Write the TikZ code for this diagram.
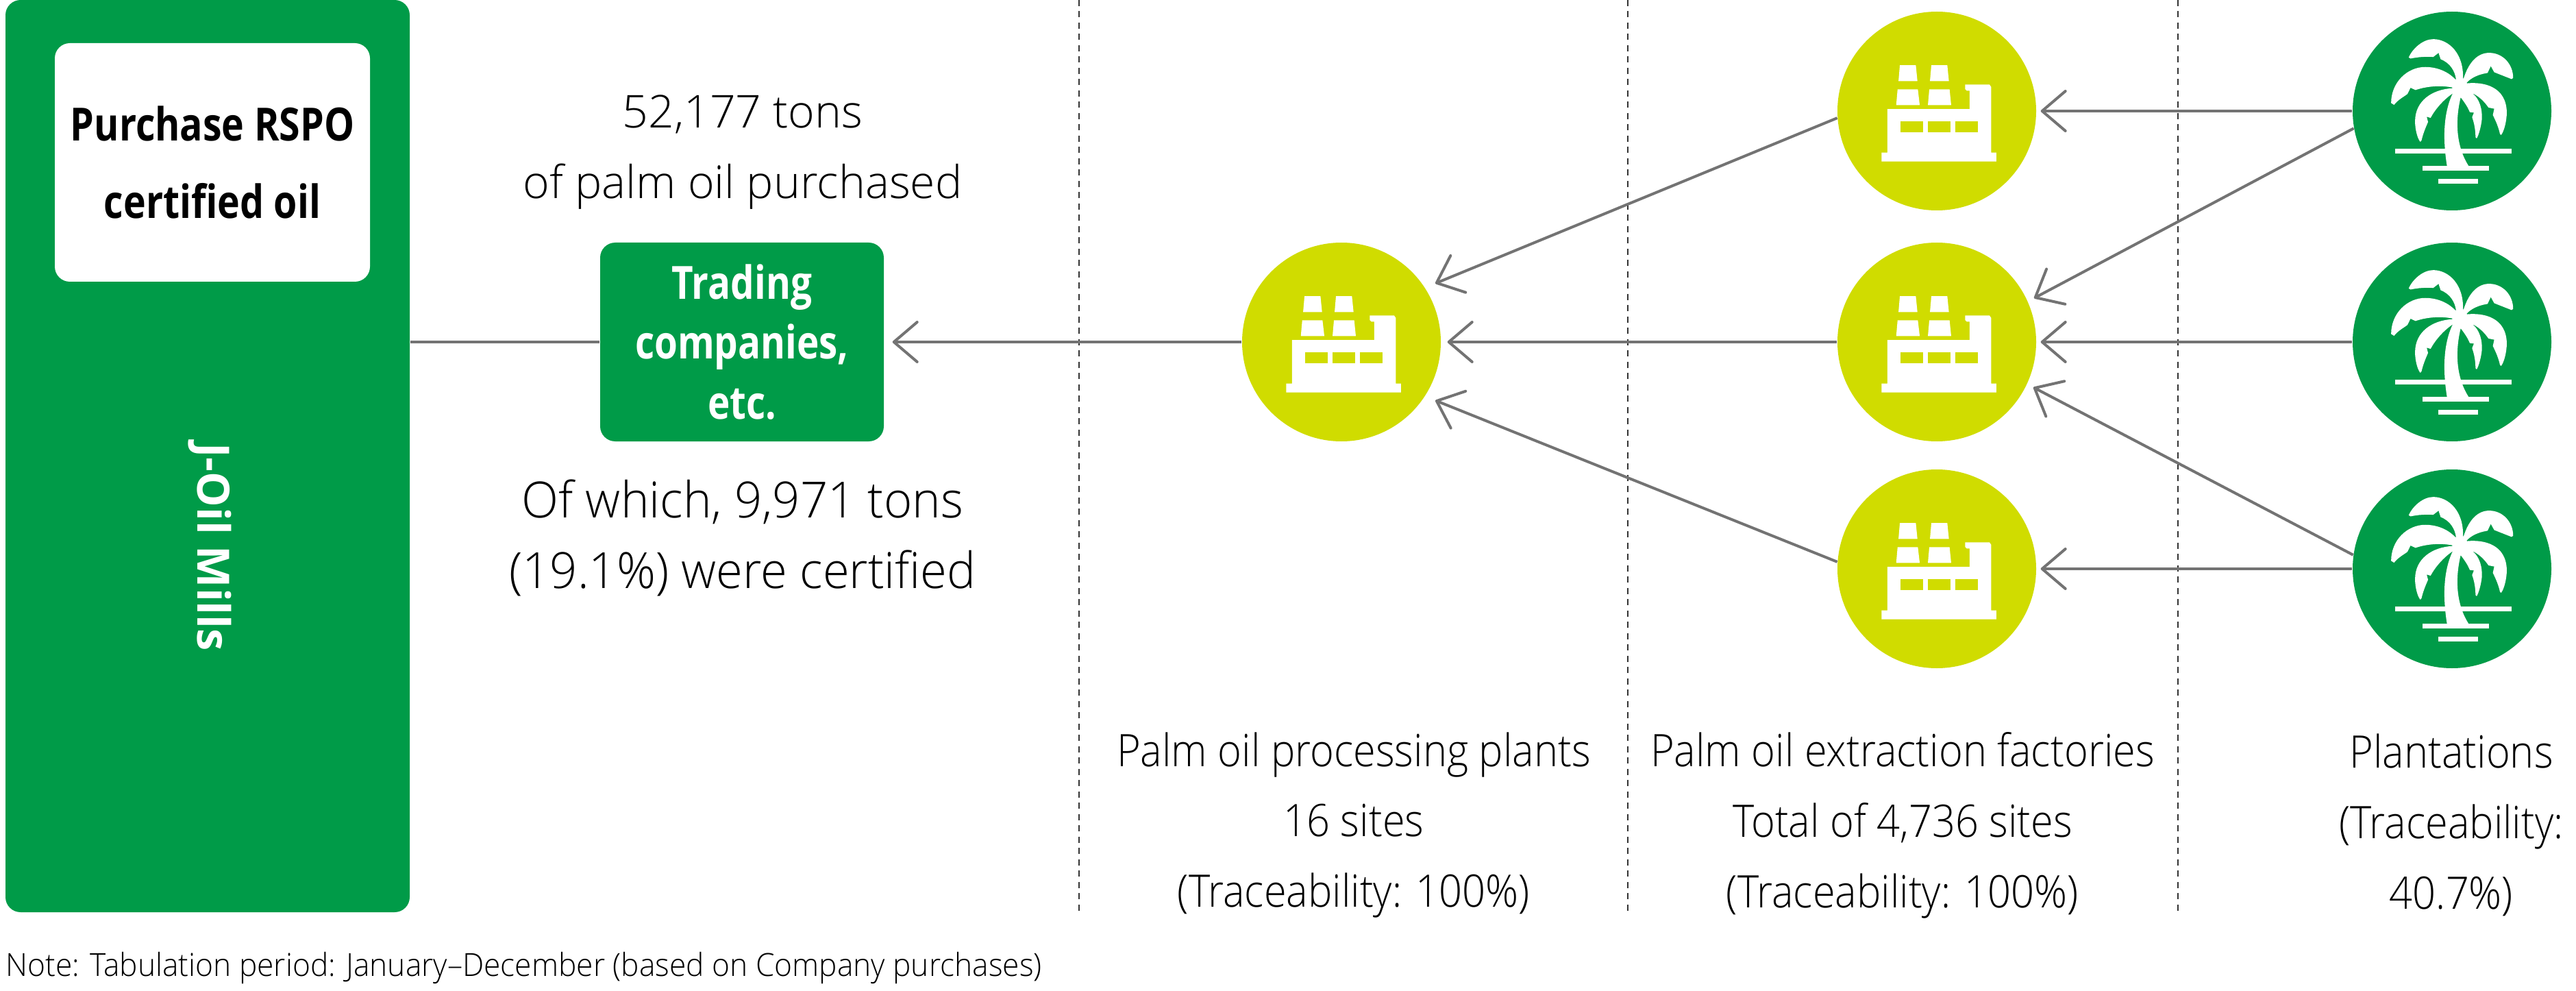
\documentclass[tikz,border=0pt]{standalone}
\usepackage{fontspec}
\setmainfont{Open Sans Light}[BoldFont={Open Sans Bold}]
\usetikzlibrary{arrows.meta}
\definecolor{oilgreen}{HTML}{009B48}
\definecolor{plantlime}{HTML}{D0DC00}
\definecolor{flowgray}{HTML}{737373}
\def\narrowfont#1#2#3{\fontsize{#1}{#2}\selectfont\addfontfeature{FakeStretch=#3}}
\def\narrowbold#1#2#3{\fontsize{#1}{#2}\selectfont\bfseries\addfontfeature{FakeStretch=#3}}
\tikzset{
	flow/.style={draw=flowgray, line width=0.4mm, -{Straight Barb[length=3.4mm, width=5.8mm, round]}},
	sitecircle/.style={circle, minimum size=2.9cm, inner sep=0pt},
	sitedash/.style={draw=black!80, line width=0.25mm, dash pattern=on 0.09cm off 0.075cm},
	greybox/.style={rectangle, rounded corners=0.22cm, inner sep=0pt},
	bodytext/.style={align=center, text=black},
}
% icons are traced in thirds of a reference pixel, so y runs downwards here
\def\factoryicon(#1){
	\begin{scope}[shift={(#1)}, x=0.0333mm, y=-0.0333mm, shift={(-624,-451)}]
		\fill[white] (462,250) -- (532,250) -- (539,320) -- (456,320) -- cycle;
		\fill[white] (600,250) -- (670,250) -- (677,320) -- (594,320) -- cycle;
		\fill[white] (452,356) -- (541,356) -- (549,425) -- (446,425) -- cycle;
		\fill[white] (591,356) -- (680,356) -- (687,425) -- (585,425) -- cycle;
		\fill[white] (407,442) -- (768,442) -- (768,362) -- (755,362) -- (748,355) -- (748,335)
			-- (855,335) -- (862,345) -- (862,633) -- (885,633) -- (885,672) -- (382,672)
			-- (382,633) -- (407,633) -- cycle;
		\fill[plantlime] (465,497) rectangle (565,543);
		\fill[plantlime] (585,497) rectangle (684,543);
		\fill[plantlime] (705,497) rectangle (803,543);
	\end{scope}
}
\def\palmicon(#1){
	\begin{scope}[shift={(#1)}, x=0.0333mm, y=-0.0333mm, shift={(-537,-485)}]
		\fill[white] (288,650) rectangle (798,670);
		\fill[white] (408,726) rectangle (698,746);
		\fill[white] (478,783) rectangle (650,803);
		% trunk
		\fill[white] (540,408) .. controls (510,470) and (490,570) .. (515,726) -- (610,726)
			.. controls (555,640) and (550,530) .. (575,425) -- cycle;
		\fill[white] (553,346) -- (587,342) -- (601,361) -- (631,409) -- (575,427) -- (538,409) -- (538,381) -- cycle;
		% leaves
		\fill[white] (585,345) .. controls (590,230) and (520,170) .. (455,170)
			.. controls (410,170) and (365,210) .. (347,250) -- (355,255)
			.. controls (390,248) and (420,246) .. (455,248) -- (478,230) -- (487,258)
			.. controls (530,275) and (550,310) .. (555,348) -- cycle;
		\fill[white] (587,345) .. controls (610,270) and (650,230) .. (700,230)
			.. controls (760,230) and (805,280) .. (805,340) -- (798,345) -- (722,315)
			-- (707,288) -- (693,318) .. controls (650,325) and (620,340) .. (600,362) -- cycle;
		\fill[white] (555,350) .. controls (515,305) and (460,292) .. (420,292)
			.. controls (340,292) and (270,360) .. (270,450) -- (283,458)
			.. controls (300,435) and (330,420) .. (342,410) -- (355,383) -- (377,393)
			.. controls (430,375) and (490,372) .. (540,382) -- cycle;
		\fill[white] (540,385) .. controls (450,390) and (375,440) .. (375,530)
			.. controls (375,565) and (385,605) .. (398,620) -- (403,615)
			.. controls (410,585) and (420,560) .. (432,533) -- (426,510) -- (443,515)
			.. controls (465,475) and (500,435) .. (540,408) -- cycle;
		\fill[white] (628,408) .. controls (660,435) and (670,480) .. (668,520)
			.. controls (665,550) and (655,590) .. (645,605) -- (640,600)
			.. controls (640,570) and (635,540) .. (625,512) -- (633,492) -- (615,490)
			.. controls (605,465) and (590,445) .. (575,425) -- cycle;
		\fill[white] (598,364) .. controls (680,355) and (775,380) .. (777,490)
			.. controls (777,530) and (765,575) .. (752,590) -- (747,585)
			.. controls (742,560) and (730,530) .. (716,503) -- (722,475) -- (697,470)
			.. controls (680,445) and (655,420) .. (628,408) -- cycle;
	\end{scope}
}

\begin{document}
\begin{tikzpicture}
	\useasboundingbox (0, 0) rectangle (37.6, 14.45);

	% site dividers
	\draw[sitedash] (15.75, 14.45) -- (15.75, 1.09);
	\draw[sitedash] (23.76, 14.45) -- (23.76, 1.09);
	\draw[sitedash] (31.79, 14.45) -- (31.79, 1.09);

	% company bar
	\node[greybox, fill=oilgreen, minimum width=5.9cm, minimum height=13.31cm] (mills) at (3.03, 7.795) {};
	\node[greybox, fill=white, minimum width=4.6cm, minimum height=3.48cm, align=center,
		font=\narrowbold{19}{31.9}{0.83}] (rspo) at (3.1, 12.08) {Purchase RSPO\\certified oil};
	\node[rotate=-90, text=white, font=\fontsize{18.5}{22}\selectfont\bfseries] (millsname) at (3.06, 6.47) {J-Oil Mills};

	% trading companies
	\node[greybox, fill=oilgreen, text=white, minimum width=4.14cm, minimum height=2.9cm, align=center,
		font=\narrowbold{19}{25}{0.82}] (trading) at (10.83, 9.46) {Trading\\companies,\\etc.};
	\node[bodytext, font=\narrowfont{18.8}{29.3}{1}] (bought) at (10.84, 12.23) {52,177 tons\\of palm oil purchased};
	\node[bodytext, font=\narrowfont{20.7}{29.3}{0.97}] (share) at (10.84, 6.6) {Of which, 9,971 tons\\(19.1\%) were certified};

	% sites
	\node[sitecircle, fill=plantlime] (plant) at (19.58, 9.46) {};
	\node[sitecircle, fill=plantlime] (factA) at (28.27, 12.83) {};
	\node[sitecircle, fill=plantlime] (factB) at (28.27, 9.46) {};
	\node[sitecircle, fill=plantlime] (factC) at (28.27, 6.15) {};
	\node[sitecircle, fill=oilgreen] (palmA) at (35.79, 12.83) {};
	\node[sitecircle, fill=oilgreen] (palmB) at (35.79, 9.46) {};
	\node[sitecircle, fill=oilgreen] (palmC) at (35.79, 6.15) {};
	\factoryicon(19.58, 9.46)
	\factoryicon(28.27, 12.83)
	\factoryicon(28.27, 9.46)
	\factoryicon(28.27, 6.15)
	\palmicon(35.79, 12.83)
	\palmicon(35.79, 9.46)
	\palmicon(35.79, 6.15)

	% flows
	\draw[draw=flowgray, line width=0.4mm] (trading.west) -- (trading.west -| mills.east);
	\draw[flow, shorten >=0.12cm] (plant.west) -- (trading.east);
	\draw[flow, shorten >=0.09cm] (factB.west) -- (plant.east);
	\draw[flow, shorten >=0.16cm] (factA.184) -- (plant.33);
	\draw[flow, shorten >=0.16cm] (factC.176) -- (plant.-33);
	\draw[flow, shorten >=0.06cm] (palmA.west) -- (factA.east);
	\draw[flow, shorten >=0.06cm] (palmB.west) -- (factB.east);
	\draw[flow, shorten >=0.06cm] (palmC.west) -- (factC.east);
	\draw[flow, shorten >=0.1cm] (palmA.190) -- (factB.24);
	\draw[flow, shorten >=0.1cm] (palmC.172) -- (factB.-25);

	% captions
	\node[bodytext, font=\narrowfont{18.6}{29.3}{0.91}] (plantnote) at (19.76, 2.41) {Palm oil processing plants\\16 sites\\(Traceability: 100\%)};
	\node[bodytext, font=\narrowfont{18.6}{29.3}{0.91}] (factnote) at (27.77, 2.41) {Palm oil extraction factories\\Total of 4,736 sites\\(Traceability: 100\%)};
	\node[bodytext, font=\narrowfont{18.6}{29.3}{0.91}] (palmnote) at (35.78, 2.41) {Plantations\\(Traceability:\\40.7\%)};
	\node[anchor=west, inner sep=0pt, text=black, font=\narrowfont{13.2}{15}{0.955}] (note) at (0.08, 0.33)
		{Note: Tabulation period: January–December (based on Company purchases)};
\end{tikzpicture}
\end{document}
